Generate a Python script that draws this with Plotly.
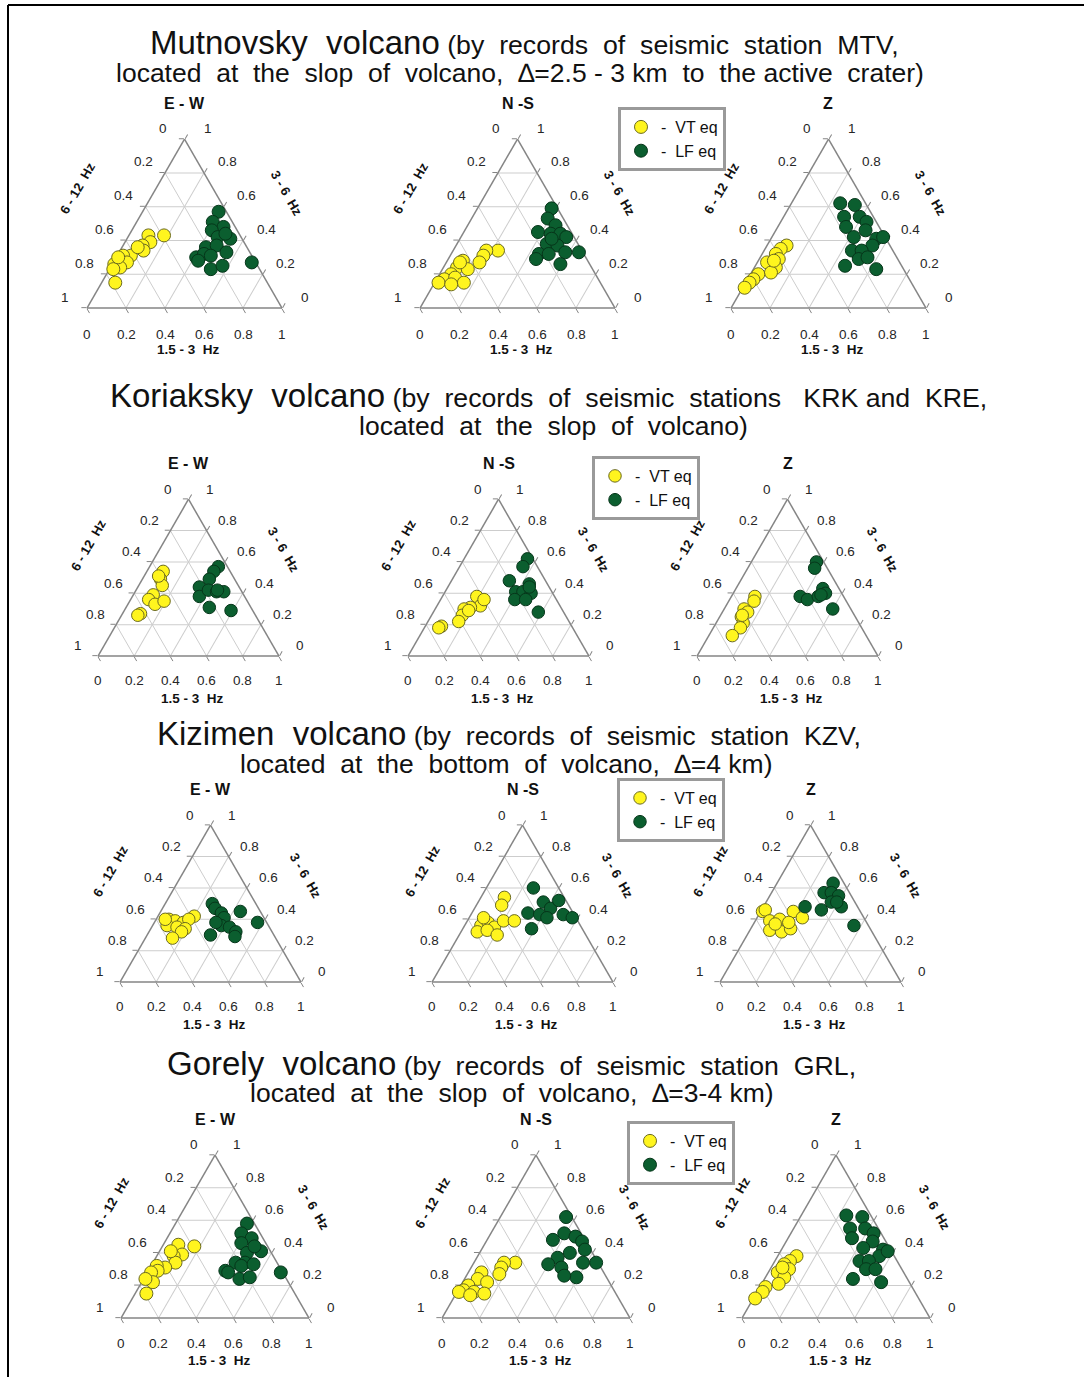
import plotly.graph_objects as go

PAGE_W, PAGE_H = 1084, 1377
FONT = "Arial, Liberation Sans, Helvetica, sans-serif"

# Axis captions and tick values shared by every triangle
FREQ_LOW = "1.5 - 3  Hz"    # bottom side, vertex at bottom-right
FREQ_MID = "3 - 6  Hz"      # right side, vertex at top
FREQ_HIGH = "6 - 12  Hz"    # left side, vertex at bottom-left
TICK_VALUES = [0, 0.2, 0.4, 0.6, 0.8, 1]
COMPONENTS = ["E - W", "N -S", "Z"]
VT_NAME = "-  VT eq"
LF_NAME = "-  LF eq"

# ---- Mutnovsky (station MTV): fractions of 3-6 Hz (mid) and 1.5-3 Hz (low)
mut_ew_vt_mid = [0.43, 0.43, 0.39, 0.37, 0.34, 0.31, 0.31, 0.28, 0.27, 0.26, 0.24, 0.23, 0.15, 0.36, 0.30]
mut_ew_vt_low = [0.18, 0.10, 0.13, 0.10, 0.12, 0.07, 0.03, 0.03, 0.07, 0.01, 0.05, 0.02, 0.07, 0.08, 0.01]
mut_ew_lf_mid = [0.57, 0.51, 0.48, 0.46, 0.41, 0.42, 0.44, 0.36, 0.37, 0.30, 0.32, 0.31, 0.33, 0.28, 0.23, 0.25, 0.27]
mut_ew_lf_low = [0.39, 0.39, 0.46, 0.41, 0.53, 0.46, 0.49, 0.43, 0.48, 0.41, 0.44, 0.48, 0.55, 0.43, 0.52, 0.57, 0.71]

mut_ns_vt_mid = [0.34, 0.34, 0.31, 0.27, 0.28, 0.24, 0.23, 0.20, 0.17, 0.18, 0.15, 0.15, 0.14, 0.27]
mut_ns_vt_low = [0.23, 0.17, 0.17, 0.17, 0.08, 0.07, 0.13, 0.06, 0.04, 0.09, 0.15, 0.02, 0.09, 0.07]
mut_ns_lf_mid = [0.59, 0.53, 0.49, 0.45, 0.44, 0.44, 0.42, 0.38, 0.37, 0.32, 0.29, 0.32, 0.33, 0.33, 0.26, 0.41]
mut_ns_lf_low = [0.38, 0.39, 0.45, 0.38, 0.45, 0.50, 0.54, 0.46, 0.52, 0.45, 0.45, 0.50, 0.58, 0.65, 0.59, 0.47]

mut_z_vt_mid = [0.37, 0.35, 0.32, 0.29, 0.27, 0.24, 0.21, 0.20, 0.17, 0.15, 0.12, 0.28]
mut_z_vt_low = [0.10, 0.08, 0.07, 0.10, 0.05, 0.11, 0.10, 0.04, 0.03, 0.02, 0.01, 0.08]
mut_z_lf_mid = [0.62, 0.61, 0.54, 0.54, 0.51, 0.48, 0.46, 0.42, 0.41, 0.37, 0.34, 0.34, 0.29, 0.30, 0.25, 0.23, 0.42]
mut_z_lf_low = [0.25, 0.33, 0.31, 0.39, 0.44, 0.35, 0.46, 0.42, 0.54, 0.54, 0.45, 0.50, 0.51, 0.55, 0.46, 0.63, 0.57]

# ---- Koriaksky (stations KRK and KRE)
kor_ew_vt_mid = [0.54, 0.49, 0.45, 0.39, 0.36, 0.33, 0.35, 0.27, 0.26, 0.51]
kor_ew_vt_low = [0.09, 0.10, 0.13, 0.11, 0.10, 0.15, 0.19, 0.10, 0.09, 0.08]
kor_ew_lf_mid = [0.57, 0.54, 0.49, 0.44, 0.38, 0.42, 0.41, 0.41, 0.42, 0.31, 0.29]
kor_ew_lf_low = [0.38, 0.37, 0.37, 0.34, 0.37, 0.40, 0.45, 0.49, 0.45, 0.46, 0.59]

kor_ns_vt_mid = [0.38, 0.32, 0.31, 0.30, 0.26, 0.22, 0.19, 0.18, 0.36, 0.29]
kor_ns_vt_low = [0.19, 0.24, 0.19, 0.16, 0.17, 0.17, 0.09, 0.08, 0.24, 0.19]
kor_ns_lf_mid = [0.62, 0.57, 0.48, 0.46, 0.41, 0.41, 0.40, 0.36, 0.36, 0.28, 0.44]
kor_ns_lf_low = [0.35, 0.35, 0.32, 0.44, 0.39, 0.43, 0.48, 0.41, 0.47, 0.58, 0.45]

kor_z_vt_mid = [0.38, 0.35, 0.30, 0.28, 0.25, 0.21, 0.18, 0.13, 0.26]
kor_z_vt_low = [0.13, 0.14, 0.11, 0.14, 0.12, 0.15, 0.15, 0.13, 0.12]
kor_z_lf_mid = [0.60, 0.56, 0.38, 0.36, 0.38, 0.43, 0.40, 0.39, 0.30]
kor_z_lf_low = [0.36, 0.37, 0.38, 0.43, 0.48, 0.48, 0.51, 0.49, 0.60]

# ---- Kizimen (station KZV)
kiz_ew_vt_mid = [0.42, 0.40, 0.39, 0.38, 0.40, 0.36, 0.35, 0.34, 0.32, 0.28, 0.40]
kiz_ew_vt_low = [0.20, 0.07, 0.11, 0.16, 0.18, 0.08, 0.14, 0.19, 0.18, 0.15, 0.05]
kiz_ew_lf_mid = [0.50, 0.47, 0.44, 0.45, 0.41, 0.38, 0.36, 0.35, 0.32, 0.29, 0.30, 0.38]
kiz_ew_lf_low = [0.26, 0.29, 0.34, 0.44, 0.37, 0.57, 0.38, 0.43, 0.48, 0.49, 0.35, 0.34]

kiz_ns_vt_mid = [0.54, 0.49, 0.36, 0.38, 0.35, 0.39, 0.39, 0.32, 0.33, 0.30, 0.41]
kiz_ns_vt_low = [0.13, 0.14, 0.09, 0.12, 0.17, 0.20, 0.26, 0.09, 0.14, 0.21, 0.08]
kiz_ns_lf_mid = [0.60, 0.51, 0.44, 0.43, 0.47, 0.34, 0.41, 0.43, 0.41, 0.52]
kiz_ns_lf_low = [0.26, 0.36, 0.31, 0.38, 0.42, 0.38, 0.43, 0.51, 0.57, 0.44]

kiz_z_vt_mid = [0.45, 0.46, 0.39, 0.40, 0.33, 0.32, 0.34, 0.45, 0.41, 0.38, 0.37]
kiz_z_vt_low = [0.01, 0.02, 0.08, 0.13, 0.11, 0.18, 0.22, 0.18, 0.25, 0.19, 0.12]
kiz_z_lf_mid = [0.63, 0.57, 0.57, 0.55, 0.51, 0.48, 0.46, 0.48, 0.36, 0.51]
kiz_z_lf_low = [0.31, 0.29, 0.33, 0.38, 0.36, 0.43, 0.33, 0.23, 0.56, 0.39]

# ---- Gorely (station GRL)
gor_ew_vt_mid = [0.44, 0.45, 0.39, 0.38, 0.34, 0.31, 0.32, 0.29, 0.28, 0.22, 0.24, 0.15, 0.41]
gor_ew_vt_low = [0.17, 0.08, 0.13, 0.09, 0.12, 0.08, 0.03, 0.05, 0.02, 0.06, 0.01, 0.06, 0.06]
gor_ew_lf_mid = [0.58, 0.52, 0.49, 0.46, 0.41, 0.40, 0.44, 0.34, 0.34, 0.29, 0.32, 0.33, 0.24, 0.25, 0.28, 0.28]
gor_ew_lf_low = [0.38, 0.38, 0.45, 0.41, 0.54, 0.47, 0.49, 0.44, 0.49, 0.41, 0.48, 0.54, 0.51, 0.56, 0.71, 0.43]

gor_ns_vt_mid = [0.34, 0.34, 0.31, 0.27, 0.28, 0.24, 0.22, 0.20, 0.17, 0.16, 0.15, 0.16, 0.14]
gor_ns_vt_low = [0.22, 0.16, 0.16, 0.17, 0.07, 0.07, 0.13, 0.04, 0.03, 0.09, 0.15, 0.01, 0.08]
gor_ns_lf_mid = [0.62, 0.52, 0.50, 0.48, 0.47, 0.42, 0.40, 0.37, 0.34, 0.34, 0.31, 0.33, 0.25, 0.26]
gor_ns_lf_low = [0.35, 0.39, 0.46, 0.35, 0.51, 0.55, 0.48, 0.43, 0.58, 0.65, 0.48, 0.40, 0.59, 0.52]

gor_z_vt_mid = [0.38, 0.35, 0.33, 0.30, 0.28, 0.25, 0.21, 0.19, 0.16, 0.12, 0.31]
gor_z_vt_low = [0.10, 0.08, 0.06, 0.10, 0.05, 0.10, 0.09, 0.03, 0.03, 0.01, 0.06]
gor_z_lf_mid = [0.63, 0.62, 0.55, 0.55, 0.52, 0.49, 0.47, 0.43, 0.42, 0.38, 0.35, 0.35, 0.30, 0.30, 0.24, 0.22, 0.41]
gor_z_lf_low = [0.24, 0.33, 0.30, 0.38, 0.44, 0.34, 0.46, 0.43, 0.54, 0.54, 0.45, 0.50, 0.51, 0.56, 0.47, 0.63, 0.57]

# Row headings
VOLCANO_NAMES = ["Mutnovsky  volcano", "Koriaksky  volcano", "Kizimen  volcano", "Gorely  volcano"]
HEADING_REST = [
    "(by  records  of  seismic  station  MTV,",
    "(by  records  of  seismic  stations   KRK and  KRE,",
    "(by  records  of  seismic  station  KZV,",
    "(by  records  of  seismic  station  GRL,",
]
HEADING_LINE2 = [
    "located  at  the  slop  of  volcano,  \u2206=2.5 - 3 km  to  the active  crater)",
    "located  at  the  slop  of  volcano)",
    "located  at  the  bottom  of  volcano,  \u2206=4 km)",
    "located  at  the  slop  of  volcano,  \u2206=3-4 km)",
]

PANELS = [
    [(mut_ew_vt_mid, mut_ew_vt_low, mut_ew_lf_mid, mut_ew_lf_low),
     (mut_ns_vt_mid, mut_ns_vt_low, mut_ns_lf_mid, mut_ns_lf_low),
     (mut_z_vt_mid, mut_z_vt_low, mut_z_lf_mid, mut_z_lf_low)],
    [(kor_ew_vt_mid, kor_ew_vt_low, kor_ew_lf_mid, kor_ew_lf_low),
     (kor_ns_vt_mid, kor_ns_vt_low, kor_ns_lf_mid, kor_ns_lf_low),
     (kor_z_vt_mid, kor_z_vt_low, kor_z_lf_mid, kor_z_lf_low)],
    [(kiz_ew_vt_mid, kiz_ew_vt_low, kiz_ew_lf_mid, kiz_ew_lf_low),
     (kiz_ns_vt_mid, kiz_ns_vt_low, kiz_ns_lf_mid, kiz_ns_lf_low),
     (kiz_z_vt_mid, kiz_z_vt_low, kiz_z_lf_mid, kiz_z_lf_low)],
    [(gor_ew_vt_mid, gor_ew_vt_low, gor_ew_lf_mid, gor_ew_lf_low),
     (gor_ns_vt_mid, gor_ns_vt_low, gor_ns_lf_mid, gor_ns_lf_low),
     (gor_z_vt_mid, gor_z_vt_low, gor_z_lf_mid, gor_z_lf_low)],
]

# ---- Page layout (pixels): triangle base line, side length, left corners
ROW_BASE = [308, 656, 982, 1318]
ROW_SIDE = [195, 181, 181, 188]
ROW_LEFT = [[87, 420, 731], [98, 408, 697], [120, 432, 720], [121, 442, 742]]
ROW_MARKER = [13, 12.5, 12.5, 13]
HEADING_POS = [((524, 43), (520, 73)), ((548, 396), (553, 426)),
               ((509, 733), (506, 764)), ((511, 1063), (512, 1093))]
LEGEND_POS = [(618, 107), (592, 456), (617, 778), (627, 1121)]

VT_FILL, VT_EDGE = "#fff51e", "#6b6a20"
LF_FILL, LF_EDGE = "#0b5e2f", "#06361a"
EDGE = "#858585"
GRID = "#cdcdcd"
TICK_FONT = dict(size=13.5, color="#262626", family=FONT)


def px(x):
    return x / PAGE_W


def py(y):
    return 1 - y / PAGE_H


fig = go.Figure()
layout = dict(
    width=PAGE_W, height=PAGE_H,
    margin=dict(l=0, r=0, t=0, b=0),
    paper_bgcolor="white",
    font=dict(family=FONT, color="#111"),
    annotations=[], shapes=[],
)

axis = dict(
    tickmode="array", tickvals=TICK_VALUES,
    ticks="outside", ticklen=5, tickwidth=1, tickcolor=EDGE,
    showline=True, linecolor=EDGE, linewidth=1.5,
    showgrid=True, gridcolor=GRID, gridwidth=1,
    showticklabels=False, title=dict(text=""), layer="below traces",
)

sub = 0
for r, row in enumerate(PANELS):
    base, side = ROW_BASE[r], ROW_SIDE[r]
    height = side * 3 ** 0.5 / 2
    k = side / 195.0
    legend_id = "legend" if r == 0 else f"legend{r + 1}"
    for c, (vt_mid, vt_low, lf_mid, lf_low) in enumerate(row):
        sub += 1
        tid = "ternary" if sub == 1 else f"ternary{sub}"
        left = ROW_LEFT[r][c]
        right = left + side
        centre = left + side / 2
        layout[tid] = dict(
            domain=dict(x=[px(left), px(right)], y=[py(base), py(base - height)]),
            sum=1, bgcolor="white",
            aaxis=axis, baxis=axis, caxis=axis,
        )
        ms = ROW_MARKER[r]
        fig.add_trace(go.Scatterternary(
            a=vt_mid, c=vt_low, mode="markers", name=VT_NAME, subplot=tid,
            marker=dict(size=ms, color=VT_FILL, line=dict(color=VT_EDGE, width=1)),
            showlegend=(c == 0), legend=legend_id, cliponaxis=False,
        ))
        fig.add_trace(go.Scatterternary(
            a=lf_mid, c=lf_low, mode="markers", name=LF_NAME, subplot=tid,
            marker=dict(size=ms, color=LF_FILL, line=dict(color=LF_EDGE, width=1)),
            showlegend=(c == 0), legend=legend_id, cliponaxis=False,
        ))

        ann = layout["annotations"]
        # tick labels: each side counts from 0 to 1 going anticlockwise
        for v in TICK_VALUES:
            ann.append(dict(text=f"{1 - v:g}", font=TICK_FONT,
                            x=px(left + side * v / 2 - 22 * k), y=py(base - height * v - 11 * k)))
            ann.append(dict(text=f"{v:g}", font=TICK_FONT,
                            x=px(left + side * (1 - v / 2) + 23 * k), y=py(base - height * v - 11 * k)))
            ann.append(dict(text=f"{v:g}", font=TICK_FONT,
                            x=px(left + side * v), y=py(base + 26 * k)))

        ann.append(dict(text=f"<b>{COMPONENTS[c]}</b>", x=px(centre), y=py(base - height - 36),
                        font=dict(size=16, color="#111")))
        ann.append(dict(text=f"<b>{FREQ_HIGH}</b>", x=px(left - 0.05 * side), y=py(base - 0.71 * height),
                        textangle=-60, font=dict(size=13, color="#111")))
        ann.append(dict(text=f"<b>{FREQ_MID}</b>", x=px(right + 0.025 * side), y=py(base - 0.68 * height),
                        textangle=60, font=dict(size=13, color="#111")))
        ann.append(dict(text=f"<b>{FREQ_LOW}</b>", x=px(centre + 4), y=py(base + 42),
                        font=dict(size=13.5, color="#111")))

    # row heading
    (x1, y1), (x2, y2) = HEADING_POS[r]
    layout["annotations"].append(dict(
        text=f"<span style='font-size:33px'>{VOLCANO_NAMES[r]}</span> {HEADING_REST[r]}",
        x=px(x1), y=py(y1), font=dict(size=26.7, color="#111")))
    layout["annotations"].append(dict(
        text=HEADING_LINE2[r], x=px(x2), y=py(y2), font=dict(size=26.5, color="#111")))

    lx, ly = LEGEND_POS[r]
    layout[legend_id] = dict(
        x=px(lx), y=py(ly), xanchor="left", yanchor="top",
        bgcolor="white", bordercolor="#9a9a9a", borderwidth=3,
        font=dict(size=16, color="#111", family=FONT),
        tracegroupgap=0, itemclick=False, itemdoubleclick=False,
    )

for a in layout["annotations"]:
    a.update(xref="paper", yref="paper", showarrow=False, xanchor="center", yanchor="middle")

# frame lines along the left and top of the page
layout["shapes"] = [
    dict(type="line", xref="paper", yref="paper", x0=px(8), x1=px(8), y0=0, y1=py(5),
         line=dict(color="black", width=2)),
    dict(type="line", xref="paper", yref="paper", x0=px(8), x1=1, y0=py(5), y1=py(5),
         line=dict(color="black", width=2)),
]

fig.update_layout(**layout)
fig.write_html("out.html")
